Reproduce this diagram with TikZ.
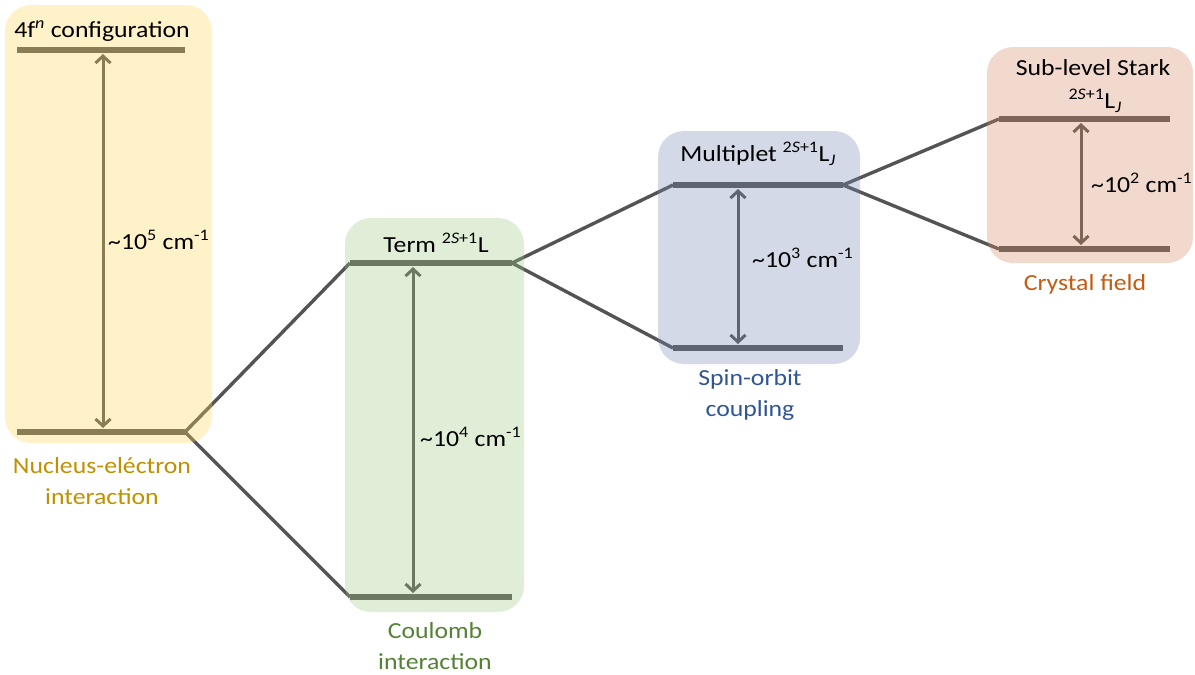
\documentclass[tikz,border=0pt]{standalone}
\usepackage{fontspec}
\setmainfont{Carlito}[FakeStretch=1.12]
\usetikzlibrary{arrows.meta}

\definecolor{lvl}{RGB}{84,84,84}
\definecolor{fillY}{RGB}{255,212,85}
\definecolor{fillG}{RGB}{158,202,132}
\definecolor{fillB}{RGB}{118,138,178}
\definecolor{fillO}{RGB}{215,138,98}
\definecolor{txtY}{RGB}{191,144,0}
\definecolor{txtG}{RGB}{84,130,53}
\definecolor{txtB}{RGB}{47,85,151}
\definecolor{txtO}{RGB}{197,90,17}

\tikzset{
  level/.style={draw=lvl, line width=5.5pt},
  link/.style={draw=lvl, line width=3.4pt},
  gap/.style={draw=lvl, line width=3pt, {Straight Barb[length=7pt,width=15pt]}-{Straight Barb[length=7pt,width=15pt]}, shorten <=4pt, shorten >=4pt},
  panel/.style={draw=none, rounded corners=26pt, fill opacity=0.32, inner sep=0pt, outer sep=0pt},
  title/.style={font=\fontsize{23}{28}\selectfont, text=black, inner sep=0pt},
  value/.style={font=\fontsize{23}{28}\selectfont, text=black, anchor=west, inner sep=0pt},
  caption/.style={font=\fontsize{23}{31}\selectfont, align=center, inner sep=0pt},
}

\newcommand{\sterm}{\textsuperscript{2\textit{S}+1}}

\begin{document}
\begin{tikzpicture}[x=1pt, y=-1pt]
\useasboundingbox (0,0) rectangle (1195,675);

% energy level end points
\coordinate (y1a) at (17,50);   \coordinate (y1b) at (185,50);
\coordinate (y2a) at (17,432);  \coordinate (y2b) at (185,432);
\coordinate (g1a) at (350,263); \coordinate (g1b) at (512,263);
\coordinate (g2a) at (350,597); \coordinate (g2b) at (512,597);
\coordinate (b1a) at (673,185); \coordinate (b1b) at (843,185);
\coordinate (b2a) at (673,348); \coordinate (b2b) at (843,348);
\coordinate (o1a) at (999,119); \coordinate (o1b) at (1170,119);
\coordinate (o2a) at (999,249); \coordinate (o2b) at (1170,249);

% arrow anchors on the levels
\coordinate (ya) at (103,50);   \coordinate (yb) at (103,432);
\coordinate (ga) at (413,263);  \coordinate (gb) at (413,597);
\coordinate (ba) at (738,185);  \coordinate (bb) at (738,348);
\coordinate (oa) at (1081,119); \coordinate (ob) at (1081,249);

% levels
\draw[level] (y1a) -- (y1b);
\draw[level] (y2a) -- (y2b);
\draw[level] (g1a) -- (g1b);
\draw[level] (g2a) -- (g2b);
\draw[level] (b1a) -- (b1b);
\draw[level] (b2a) -- (b2b);
\draw[level] (o1a) -- (o1b);
\draw[level] (o2a) -- (o2b);

% splitting connectors
\draw[link] (g1a) -- (y2b) -- (g2a);
\draw[link] (b1a) -- (g1b) -- (b2a);
\draw[link] (o1a) -- (b1b) -- (o2a);

% energy gaps
\draw[gap] (ya) -- (yb);
\draw[gap] (ga) -- (gb);
\draw[gap] (ba) -- (bb);
\draw[gap] (oa) -- (ob);

% tinted panels
\node[panel, fill=fillY, minimum width=207pt, minimum height=438pt] (panY) at (108.5,224) {};
\node[panel, fill=fillG, minimum width=179pt, minimum height=394pt] (panG) at (434.5,415) {};
\node[panel, fill=fillB, minimum width=202pt, minimum height=233pt] (panB) at (759,247.5) {};
\node[panel, fill=fillO, minimum width=206pt, minimum height=216pt] (panO) at (1090,155) {};

% panel titles
\node[title] (tY) at (102,31) {4f\textsuperscript{\textit{n}} configuration};
\node[title] (tG) at (436,243) {Term \sterm L};
\node[title] (tB) at (758,154) {Multiplet \sterm L\textsubscript{\textit{J}}};
\node[title] (tO) at (1093,68) {Sub-level Stark};
\node[title] (tO2) at (1095,101) {\sterm L\textsubscript{\textit{J}}};

% gap values
\node[value] (vY) at (108,240) {\char`~10\textsuperscript{5} cm\textsuperscript{-1}};
\node[value] (vG) at (420,437) {\char`~10\textsuperscript{4} cm\textsuperscript{-1}};
\node[value] (vB) at (752,258) {\char`~10\textsuperscript{3} cm\textsuperscript{-1}};
\node[value] (vO) at (1091,183) {\char`~10\textsuperscript{2} cm\textsuperscript{-1}};

% interaction captions
\node[caption, text=txtY] (cY) at (102,481) {Nucleus-eléctron\\interaction};
\node[caption, text=txtG] (cG) at (435,646) {Coulomb\\interaction};
\node[caption, text=txtB] (cB) at (750,395) {Spin-orbit\\coupling};
\node[caption, text=txtO] (cO) at (1085,284) {Crystal field};
\end{tikzpicture}
\end{document}
